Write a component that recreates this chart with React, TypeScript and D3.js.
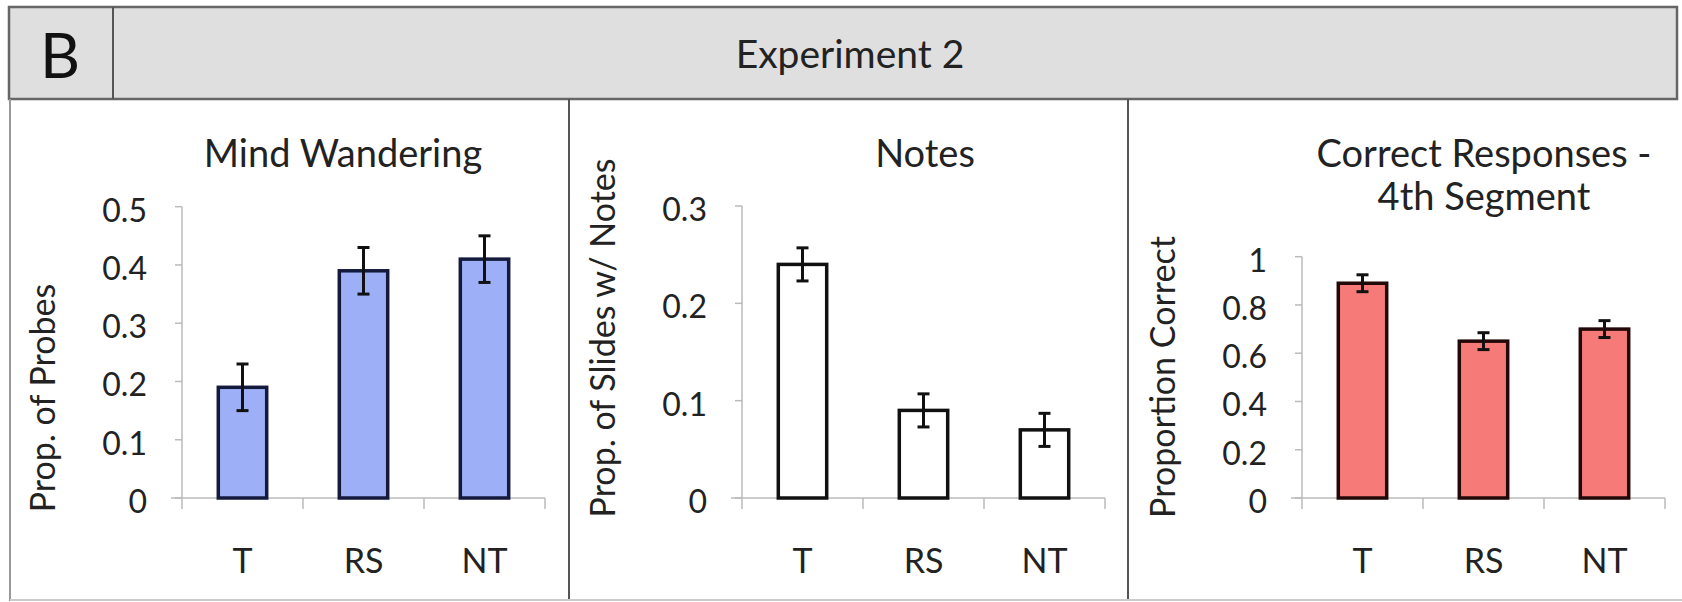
import React from 'react'
import * as d3 from 'd3'

// Experiment 2 - three bar panels with error bars
const categories = ['T', 'RS', 'NT']

const mindWandering = [0.19, 0.39, 0.41]
const mindWanderingErr = [0.04, 0.04, 0.04]
const mindWanderingTicks = [0, 0.1, 0.2, 0.3, 0.4, 0.5]

const notes = [0.24, 0.09, 0.07]
const notesErr = [0.017, 0.017, 0.017]
const notesTicks = [0, 0.1, 0.2, 0.3]

const correct = [0.89, 0.65, 0.7]
const correctErr = [0.035, 0.035, 0.035]
const correctTicks = [0, 0.2, 0.4, 0.6, 0.8, 1]

const FONT = 'Lato, "Open Sans", sans-serif'

type PanelProps = {
  ox: number
  values: number[]
  errs: number[]
  ticks: number[]
  yTop: number
  fill: string
  stroke: string
  title: string[]
  titleX: number
  ylabel: string
  ylabelY: number
}

function Panel({ ox, values, errs, ticks, yTop, fill, stroke, title, titleX, ylabel, ylabelY }: PanelProps) {
  const x = d3.scaleBand().domain(categories).range([ox + 182, ox + 545]).paddingInner(0.6).paddingOuter(0.3)
  const y = d3.scaleLinear().domain([0, d3.max(ticks) as number]).range([498, yTop])
  const edges = d3.range(categories.length + 1).map(i => ox + 182 + i * x.step())

  return (
    <g>
      {title.map((t, i) => (
        <text key={t} x={ox + titleX} y={167 + i * 43} textAnchor="middle" fontSize={38} fill="#222">{t}</text>
      ))}
      <text transform={`translate(${ox + 55},${ylabelY}) rotate(-90)`} textAnchor="middle" fontSize={34} fill="#222">{ylabel}</text>

      {/* y axis */}
      <line x1={ox + 182} x2={ox + 182} y1={y(0)} y2={yTop} stroke="#bbb" strokeWidth={1.5} />
      {ticks.map(t => (
        <g key={t}>
          <line x1={ox + 175} x2={ox + 182} y1={y(t)} y2={y(t)} stroke="#bbb" strokeWidth={1.5} />
          <text x={ox + 147} y={y(t) + 15} textAnchor="end" fontSize={32} fill="#222">{String(t)}</text>
        </g>
      ))}

      {/* x axis */}
      <line x1={ox + 171} x2={ox + 545} y1={y(0)} y2={y(0)} stroke="#bbb" strokeWidth={1.5} />
      {edges.map(e => (
        <line key={e} x1={e} x2={e} y1={y(0)} y2={y(0) + 11} stroke="#bbb" strokeWidth={1.5} />
      ))}
      {categories.map(c => (
        <text key={c} x={(x(c) as number) + x.bandwidth() / 2} y={573} textAnchor="middle" fontSize={34} fill="#222">{c}</text>
      ))}

      {/* bars */}
      {values.map((v, i) => (
        <rect key={i} x={x(categories[i])} y={y(v)} width={x.bandwidth()} height={y(0) - y(v)}
          fill={fill} stroke={stroke} strokeWidth={3.5} />
      ))}

      {/* error bars */}
      {values.map((v, i) => {
        const cx = (x(categories[i]) as number) + x.bandwidth() / 2
        return (
          <g key={i} stroke="#111" strokeWidth={3}>
            <line x1={cx} x2={cx} y1={y(v + errs[i])} y2={y(v - errs[i])} />
            <line x1={cx - 6} x2={cx + 6} y1={y(v + errs[i])} y2={y(v + errs[i])} />
            <line x1={cx - 6} x2={cx + 6} y1={y(v - errs[i])} y2={y(v - errs[i])} />
          </g>
        )
      })}
    </g>
  )
}

export default function App() {
  return (
    <svg width={1682} height={602} style={{ position: 'absolute', left: 0, top: 0, background: '#fff' }} fontFamily={FONT}>
      {/* header */}
      <rect x={9} y={7} width={1668} height={92} fill="#dfdfdf" stroke="#666" strokeWidth={2.5} />
      <line x1={113} x2={113} y1={7} y2={99} stroke="#555" strokeWidth={2} />
      <text x={60} y={78} textAnchor="middle" fontSize={62} fill="#111">B</text>
      <text x={850} y={68} textAnchor="middle" fontSize={39} fill="#222">Experiment 2</text>

      {/* panel frame */}
      <line x1={10} x2={10} y1={99} y2={601} stroke="#999" strokeWidth={2} />
      <line x1={569} x2={569} y1={99} y2={601} stroke="#555" strokeWidth={2} />
      <line x1={1128} x2={1128} y1={99} y2={601} stroke="#555" strokeWidth={2} />
      <line x1={10} x2={1682} y1={600} y2={600} stroke="#ccc" strokeWidth={2} />

      <Panel ox={0} values={mindWandering} errs={mindWanderingErr} ticks={mindWanderingTicks} yTop={206.7}
        fill="#9daff6" stroke="#141a3c" title={['Mind Wandering']} titleX={343} ylabel="Prop. of Probes" ylabelY={398} />
      <Panel ox={560} values={notes} errs={notesErr} ticks={notesTicks} yTop={206}
        fill="#ffffff" stroke="#111" title={['Notes']} titleX={365} ylabel="Prop. of Slides w/ Notes" ylabelY={338} />
      <Panel ox={1120} values={correct} errs={correctErr} ticks={correctTicks} yTop={256.7}
        fill="#f67b78" stroke="#220808" title={['Correct Responses -', '4th Segment']} titleX={364}
        ylabel="Proportion Correct" ylabelY={377} />
    </svg>
  )
}
